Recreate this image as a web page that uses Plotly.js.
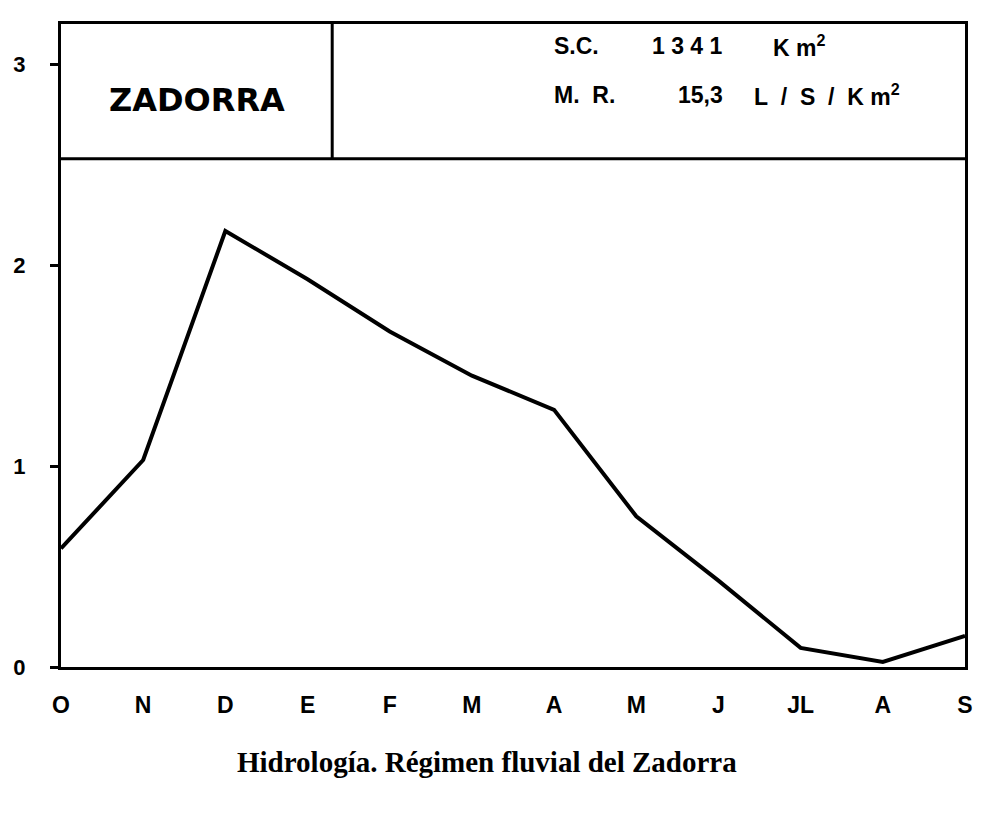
<!DOCTYPE html>
<html>
<head>
<meta charset="utf-8">
<script src="https://cdn.plot.ly/plotly-3.0.1.min.js"></script>
<style>html,body{margin:0;padding:0;background:#fff;}#chart{width:1004px;height:836px;}</style>
</head>
<body>
<div id="chart"></div>
<script>
// Months (hydrological year, October to September)
var months = ['O','N','D','E','F','M','A','M','J','JL','A','S'];
// Monthly flow coefficient values
var values = [0.59, 1.03, 2.17, 1.93, 1.67, 1.45, 1.28, 0.75, 0.43, 0.095, 0.025, 0.155];
var yTicks = [0, 1, 2, 3];
var riverName = 'ZADORRA';
var caption = 'Hidrología. Régimen fluvial del Zadorra';
var NB = '\u00a0';

var xIdx = months.map(function(_, i){ return i; });
var sans = 'Liberation Sans, Arial, sans-serif';
var boxFont = {family: sans, size: 23, color: '#000', weight: 700};

var trace = {
  x: xIdx, y: values, type: 'scatter', mode: 'lines',
  line: {color: '#000', width: 4}, hoverinfo: 'skip'
};

function sp(n){ return new Array(n + 1).join(NB); }

var ann = [
  {text: riverName, xref: 'paper', yref: 'y', x: 0.1504, y: 2.82, showarrow: false,
   font: {family: 'DejaVu Sans, sans-serif', size: 32, color: '#000', weight: 700}, xanchor: 'center', yanchor: 'middle'},
  {text: 'S.C.', xref: 'paper', yref: 'y', x: 0.543, y: 3.09, showarrow: false, xanchor: 'left', yanchor: 'middle', font: boxFont},
  {text: ['1','3','4','1'].join(NB), xref: 'paper', yref: 'y', x: 0.652, y: 3.09, showarrow: false, xanchor: 'left', yanchor: 'middle', font: boxFont},
  {text: 'K' + NB + 'm<sup>2</sup>', xref: 'paper', yref: 'y', x: 0.785, y: 3.09, showarrow: false, xanchor: 'left', yanchor: 'middle', font: boxFont},
  {text: 'M.' + sp(2) + 'R.', xref: 'paper', yref: 'y', x: 0.543, y: 2.845, showarrow: false, xanchor: 'left', yanchor: 'middle', font: boxFont},
  {text: '15,3', xref: 'paper', yref: 'y', x: 0.680, y: 2.845, showarrow: false, xanchor: 'left', yanchor: 'middle', font: boxFont},
  {text: 'L' + sp(2) + '/' + sp(2) + 'S' + sp(2) + '/' + sp(2) + 'K' + NB + 'm<sup>2</sup>', xref: 'paper', yref: 'y', x: 0.764, y: 2.845, showarrow: false, xanchor: 'left', yanchor: 'middle', font: boxFont},
  {text: caption, xref: 'paper', yref: 'paper', x: 0.471, y: -0.148, showarrow: false, xanchor: 'center', yanchor: 'middle',
   font: {family: 'Liberation Serif, Times New Roman, serif', size: 29, color: '#000', weight: 700}}
];

var layout = {
  width: 1004, height: 836,
  margin: {l: 61, r: 39, t: 24, b: 169},
  paper_bgcolor: '#fff', plot_bgcolor: '#fff',
  showlegend: false,
  xaxis: {
    range: [0, 11], tickvals: xIdx, ticktext: months,
    showgrid: false, zeroline: false, showline: true, mirror: true,
    linecolor: '#000', linewidth: 3, ticks: '',
    ticklabelstandoff: 15,
    tickfont: {family: sans, size: 23, color: '#000', weight: 700}
  },
  yaxis: {
    range: [0, 3.2], tickvals: yTicks, ticktext: yTicks.map(String),
    showgrid: false, zeroline: false, showline: true, mirror: true,
    linecolor: '#000', linewidth: 3, ticks: 'outside', ticklen: 8, tickwidth: 3, tickcolor: '#000',
    ticklabelstandoff: 20,
    tickfont: {family: sans, size: 22, color: '#000', weight: 700}
  },
  shapes: [
    {type: 'line', xref: 'paper', yref: 'y', x0: 0, x1: 1, y0: 2.53, y1: 2.53, line: {color: '#000', width: 3}},
    {type: 'line', xref: 'paper', yref: 'y', x0: 0.30, x1: 0.30, y0: 2.53, y1: 3.2, line: {color: '#000', width: 3}}
  ],
  annotations: ann
};

Plotly.newPlot('chart', [trace], layout, {staticPlot: true, displayModeBar: false});
</script>
</body>
</html>
